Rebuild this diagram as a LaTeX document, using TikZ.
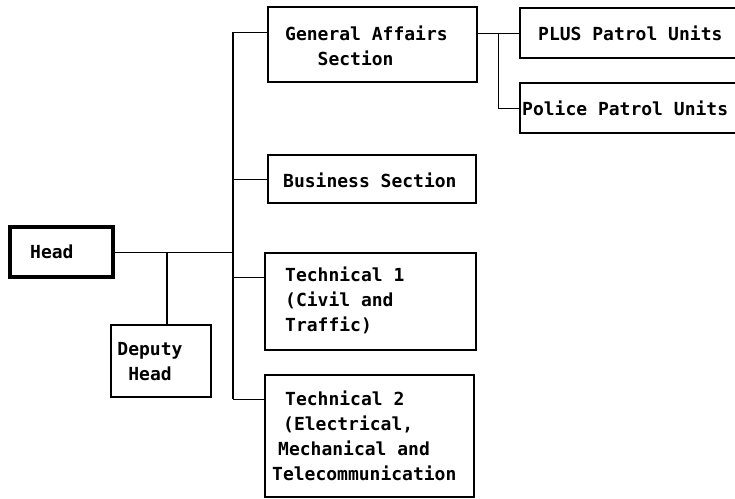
\documentclass[tikz,border=0pt]{standalone}
\usepackage{fontspec}
\newfontfamily\orgfont{DejaVu Sans Mono}
\begin{document}
\begin{tikzpicture}[x=1pt,y=-1pt,
  box/.style={draw,line width=1.3pt,rectangle,inner sep=0pt},
  headbox/.style={box,line width=3.2pt},
  txt/.style={inner sep=0pt,anchor=west,align=left,font=\orgfont\bfseries\fontsize{18}{25}\selectfont},
  conn/.style={line width=1pt},
  trunk/.style={line width=1.8pt}]
\useasboundingbox (0,0) rectangle (735,498);
% boxes
\node[headbox,minimum width=103pt,minimum height=50pt] (head) at (61.5,252) {};
\node[box,minimum width=100pt,minimum height=72pt] (deputy) at (161,361) {};
\node[box,minimum width=209pt,minimum height=75pt] (ga) at (372.5,44.5) {};
\node[box,minimum width=208pt,minimum height=48pt] (bus) at (372,179) {};
\node[box,minimum width=211pt,minimum height=97pt] (tech1) at (370.5,301.5) {};
\node[box,minimum width=209pt,minimum height=122pt] (tech2) at (369.5,436) {};
\node[box,minimum width=230pt,minimum height=50pt] (plus) at (635,33) {};
\node[box,minimum width=230pt,minimum height=50pt] (police) at (635,108) {};
% texts
\node[txt] (thead) at (30,252) {Head};
\node[txt,anchor=center,align=center] (tdeputy) at (150,362) {Deputy\\Head};
\node[txt] (tga) at (285,46) {General Affairs\\\hphantom{MMM}Section};
\node[txt] (tbus) at (283,180) {Business Section};
\node[txt] (tplus) at (538,33) {PLUS Patrol Units};
\node[txt] (tpolice) at (522,108) {Police Patrol Units};
\node[txt] (ttech1) at (285,300) {Technical 1\\(Civil and\\Traffic)};
\node[txt] (ttech2) at (272,436) {\hspace{13pt}Technical 2\\\hspace{11pt}(Electrical,\\\hspace{6pt}Mechanical and\\Telecommunication};
% connectors
\coordinate (vtop) at (233,32);
\coordinate (vbot) at (233,399);
\coordinate (j1) at (167,252);
\coordinate (j2) at (498,33);
\draw[trunk] (vtop) -- (vbot);
\draw[conn] (head.east) -- (head.east -| vtop);
\draw[trunk] (j1) -- (j1 |- deputy.north);
\draw[conn] (vtop) -- (vtop -| ga.west);
\draw[conn] (bus.west -| vtop) -- (bus.west);
\draw[conn] (233,277) coordinate (b3) -- (b3 -| tech1.west);
\draw[conn] (vbot) -- (vbot -| tech2.west);
\draw[conn] (ga.east |- plus.west) -- (plus.west);
\draw[conn] (j2) |- (police.west);
\end{tikzpicture}
\end{document}
